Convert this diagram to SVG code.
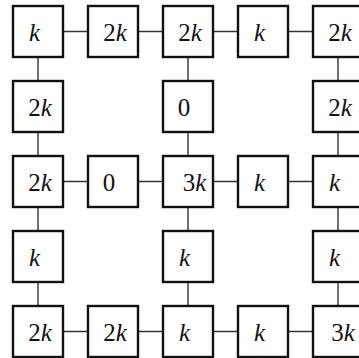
<svg xmlns="http://www.w3.org/2000/svg" width="359" height="358" viewBox="0 0 359 358">
<style>
.b{fill:#fff;stroke:#111;stroke-width:2.4}
.e{stroke:#333;stroke-width:1.4;fill:none}
text{font-family:'Liberation Serif','Times New Roman',serif;font-size:25px;fill:#111;text-anchor:middle}
.i{font-style:italic}
</style>
<rect width="359" height="358" fill="#fff"/>
<g id="connectors">
<path class="e" d="M63 31.5H88M138 31.5H163M213 31.5H238M288 31.5H313"/>
<path class="e" d="M63 181.5H88M138 181.5H163M213 181.5H238M288 181.5H313"/>
<path class="e" d="M63 331.5H88M138 331.5H163M213 331.5H238M288 331.5H313"/>
<path class="e" d="M38 57V81M38 132V156M38 207V231M38 282V306"/>
<path class="e" d="M188 57V81M188 132V156M188 207V231M188 282V306"/>
<path class="e" d="M338 57V81M338 132V156M338 207V231M338 282V306"/>
</g>
<g id="n11"><rect class="b" x="13" y="6" width="50" height="51"/><text x="34.5" y="41" class="i">k</text></g>
<g id="n12"><rect class="b" x="88" y="6" width="50" height="51"/><text x="115" y="41">2<tspan class="i">k</tspan></text></g>
<g id="n13"><rect class="b" x="163" y="6" width="50" height="51"/><text x="190" y="41">2<tspan class="i">k</tspan></text></g>
<g id="n14"><rect class="b" x="238" y="6" width="50" height="51"/><text x="259.5" y="41" class="i">k</text></g>
<g id="n15"><rect class="b" x="313" y="6" width="50" height="51"/><text x="340" y="41">2<tspan class="i">k</tspan></text></g>
<g id="n21"><rect class="b" x="13" y="81" width="50" height="51"/><text x="40" y="116">2<tspan class="i">k</tspan></text></g>
<g id="n23"><rect class="b" x="163" y="81" width="50" height="51"/><text x="184" y="116">0</text></g>
<g id="n25"><rect class="b" x="313" y="81" width="50" height="51"/><text x="340" y="116">2<tspan class="i">k</tspan></text></g>
<g id="n31"><rect class="b" x="13" y="156" width="50" height="51"/><text x="40" y="191">2<tspan class="i">k</tspan></text></g>
<g id="n32"><rect class="b" x="88" y="156" width="50" height="51"/><text x="109" y="191">0</text></g>
<g id="n33"><rect class="b" x="163" y="156" width="50" height="51"/><text x="194.5" y="191">3<tspan class="i">k</tspan></text></g>
<g id="n34"><rect class="b" x="238" y="156" width="50" height="51"/><text x="259.5" y="191" class="i">k</text></g>
<g id="n35"><rect class="b" x="313" y="156" width="50" height="51"/><text x="334.5" y="191" class="i">k</text></g>
<g id="n41"><rect class="b" x="13" y="231" width="50" height="51"/><text x="34.5" y="266" class="i">k</text></g>
<g id="n43"><rect class="b" x="163" y="231" width="50" height="51"/><text x="184.5" y="266" class="i">k</text></g>
<g id="n45"><rect class="b" x="313" y="231" width="50" height="51"/><text x="334.5" y="266" class="i">k</text></g>
<g id="n51"><rect class="b" x="13" y="306" width="50" height="51"/><text x="40" y="341">2<tspan class="i">k</tspan></text></g>
<g id="n52"><rect class="b" x="88" y="306" width="50" height="51"/><text x="115" y="341">2<tspan class="i">k</tspan></text></g>
<g id="n53"><rect class="b" x="163" y="306" width="50" height="51"/><text x="184.5" y="341" class="i">k</text></g>
<g id="n54"><rect class="b" x="238" y="306" width="50" height="51"/><text x="259.5" y="341" class="i">k</text></g>
<g id="n55"><rect class="b" x="313" y="306" width="50" height="51"/><text x="343" y="341">3<tspan class="i">k</tspan></text></g>
</svg>
